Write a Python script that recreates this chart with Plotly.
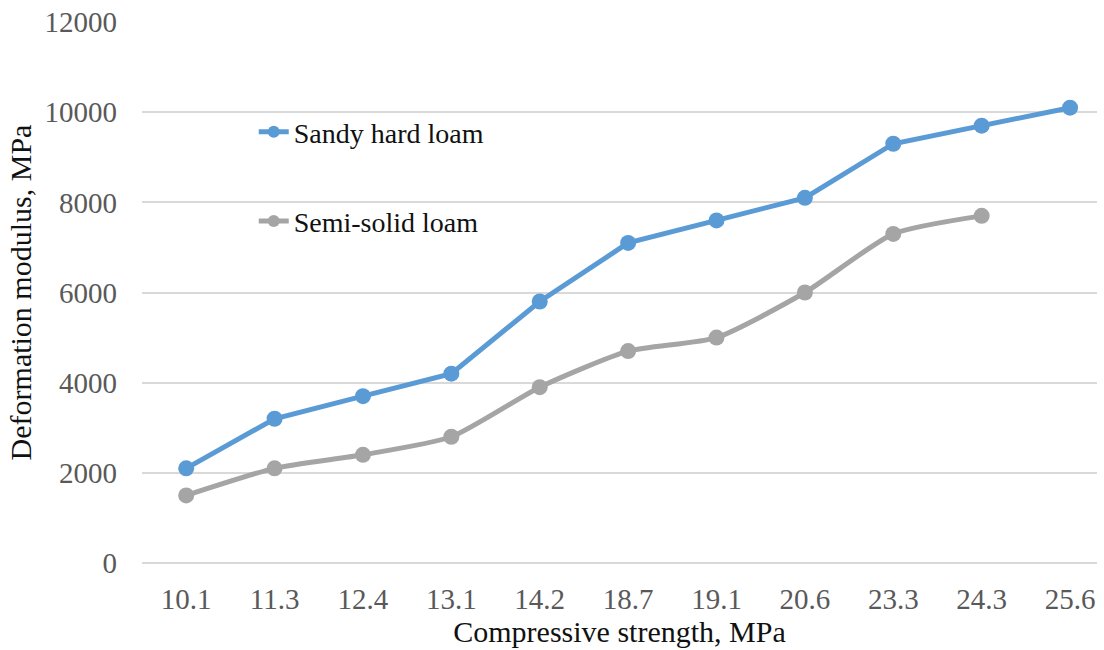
import plotly.graph_objects as go

categories = ["10.1", "11.3", "12.4", "13.1", "14.2", "18.7", "19.1", "20.6", "23.3", "24.3", "25.6"]
sandy_hard_loam = [2100, 3200, 3700, 4200, 5800, 7100, 7600, 8100, 9300, 9700, 10100]
semi_solid_loam = [1500, 2100, 2400, 2800, 3900, 4700, 5000, 6000, 7300, 7700]
y_ticks = [0, 2000, 4000, 6000, 8000, 10000, 12000]

FONT = "Liberation Serif"

fig = go.Figure()
fig.add_trace(go.Scatter(
    x=categories, y=sandy_hard_loam, name="Sandy hard loam", mode="lines+markers",
    line=dict(color="#5B9BD5", width=5, shape="linear"),
    marker=dict(color="#5B9BD5", size=16), legendgroup="a",
))
fig.add_trace(go.Scatter(
    x=categories[:len(semi_solid_loam)], y=semi_solid_loam, name="Semi-solid loam",
    mode="lines+markers",
    line=dict(color="#A5A5A5", width=5, shape="spline", smoothing=0.6),
    marker=dict(color="#A5A5A5", size=16), legendgroup="b",
))

fig.update_layout(
    width=1104, height=650,
    margin=dict(l=142, r=7, t=22, b=87, autoexpand=False),
    paper_bgcolor="white", plot_bgcolor="white",
    font=dict(family=FONT, size=28, color="#000000"),
    showlegend=True,
    legend=dict(
        x=0.117, y=0.843, xanchor="left", yanchor="top",
        bgcolor="rgba(0,0,0,0)", font=dict(family=FONT, size=28, color="#111111"),
        traceorder="grouped", tracegroupgap=50, itemsizing="constant",
    ),
    xaxis=dict(
        type="category", range=[-0.5, 10.305],
        showgrid=False, showline=False, zeroline=False, ticks="",
        tickfont=dict(family=FONT, size=29, color="#595959"),
        ticklabelstandoff=16, ticklabeloverflow="allow",
        title=dict(text="Compressive strength, MPa", font=dict(family=FONT, size=30, color="#111111"), standoff=6),
    ),
    yaxis=dict(
        range=[0, 12000.5], tickvals=y_ticks, ticktext=[str(v) for v in y_ticks],
        showgrid=True, gridcolor="#D9D9D9", gridwidth=1.5,
        zeroline=True, zerolinecolor="#D9D9D9", zerolinewidth=1.5,
        showline=False, ticks="",
        tickfont=dict(family=FONT, size=29, color="#595959"),
        ticklabelstandoff=24, ticklabeloverflow="allow",
        title=dict(text="Deformation modulus, MPa", font=dict(family=FONT, size=30, color="#111111"), standoff=4),
    ),
)

fig.write_html("out.html", config={"displayModeBar": False},
               post_script="document.body.style.margin='0px';")
